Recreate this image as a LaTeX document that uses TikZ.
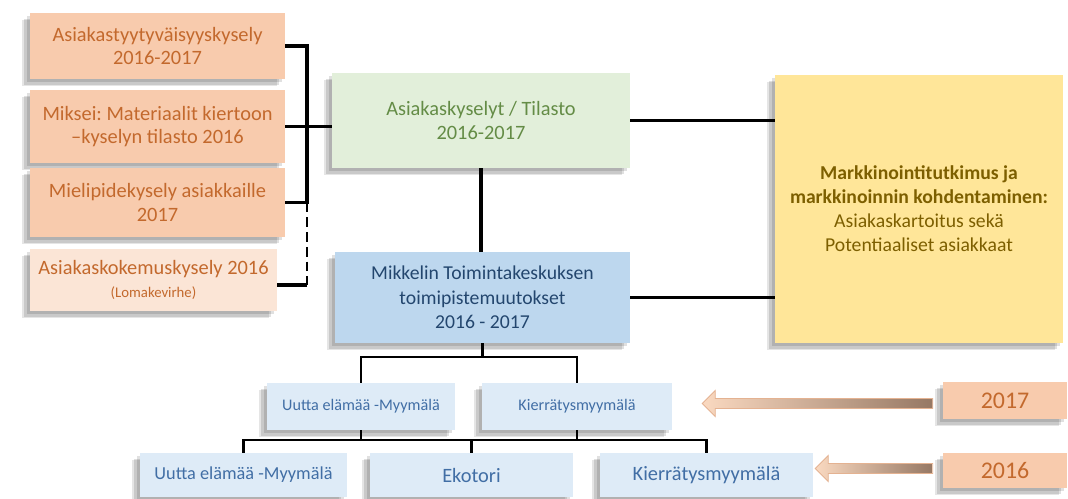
\documentclass[tikz,border=0pt]{standalone}
\usepackage{fontspec}
\setmainfont{Carlito}
\usepackage{tikz}
\usetikzlibrary{calc, shadows}
\definecolor{peachfill}{RGB}{248,203,173}
\definecolor{peachlight}{RGB}{251,229,214}
\definecolor{peachtext}{RGB}{195,105,45}
\definecolor{greenfill}{RGB}{226,239,218}
\definecolor{greentext}{RGB}{100,140,70}
\definecolor{bluefill}{RGB}{189,215,238}
\definecolor{bluetext}{RGB}{35,70,110}
\definecolor{skyfill}{RGB}{222,235,247}
\definecolor{skytext}{RGB}{65,110,165}
\definecolor{goldfill}{RGB}{255,230,153}
\definecolor{goldtext}{RGB}{125,95,0}
\definecolor{arrlight}{RGB}{250,217,192}
\definecolor{arrmid}{RGB}{218,162,125}
\definecolor{arrdark}{RGB}{150,120,100}

\newcommand{\yeararrow}[2]{%
  \shade[yeararr] (#2) -- ++(13,-13) -- ++(0,8) -- ($(#1.west |- #2)+(-10,-5)$) -- ++(0,10) -- ($(#2)+(13,5)$) -- ++(0,8) -- cycle;}

\frenchspacing
\begin{document}
\begin{tikzpicture}[
  x=0.025cm, y=-0.025cm,
  boxshadow/.style={
    drop shadow={shadow xshift=-2pt, shadow yshift=-2pt, fill=black, opacity=0.12},
    drop shadow={shadow xshift=-4pt, shadow yshift=-4pt, fill=black, opacity=0.12},
    drop shadow={shadow xshift=-6pt, shadow yshift=-5pt, fill=black, opacity=0.1}},
  base/.style={draw=none, align=center, inner sep=2pt, boxshadow},
  obox/.style={base, fill=peachfill, text=peachtext, minimum width=6.375cm, font=\fontsize{14.5}{16.5}\selectfont},
  gbox/.style={base, fill=greenfill, text=greentext, font=\fontsize{14.5}{17}\selectfont},
  bbox/.style={base, fill=bluefill, text=bluetext, font=\fontsize{14}{17.5}\selectfont},
  ybox/.style={base, fill=goldfill, text=goldtext, font=\fontsize{14}{17}\selectfont},
  sbox/.style={base, fill=skyfill, text=skytext},
  yrbox/.style={base, fill=peachfill, text=peachtext, minimum width=3.1cm, font=\fontsize{17}{20}\selectfont},
  link/.style={line width=2.5pt, black},
  tree/.style={line width=1.6pt, black},
  yeararr/.style={left color=arrlight, middle color=arrmid, right color=arrdark, draw=arrmid!70!arrlight, line width=0.6pt}
]
  \useasboundingbox (0,0) rectangle (1068,499);

  \node[obox, minimum height=1.65cm] (ask1) at (157.5,46) {Asiakastyytyväisyyskysely\\2016-2017};
  \node[obox, minimum height=1.825cm] (ask2) at (157.5,126.5) {Miksei: Materiaalit kiertoon\\–kyselyn tilasto 2016};
  \node[obox, minimum height=1.725cm] (ask3) at (157.5,202.5) {Mielipidekysely asiakkaille\\2017};
  \node[obox, fill=peachlight, minimum width=6.175cm, minimum height=1.55cm] (ask4) at (153.5,280) {Asiakaskokemuskysely 2016\\{\fontsize{10.5}{13}\selectfont(Lomakevirhe)}};

  \node[gbox, minimum width=7.45cm, minimum height=2.375cm] (stat) at (481,120.5) {Asiakaskyselyt / Tilasto\\2016-2017};
  \node[bbox, minimum width=7.375cm, minimum height=2.275cm] (mtk) at (482.5,297.5) {Mikkelin Toimintakeskuksen\\toimipistemuutokset\\2016 - 2017};
  \node[ybox, minimum width=7.2cm, minimum height=6.7cm] (mark) at (919,209) {\textbf{Markkinointitutkimus ja}\\\textbf{markkinoinnin kohdentaminen:}\\Asiakaskartoitus sekä\\Potentiaaliset asiakkaat};

  \node[sbox, minimum width=4.7cm, minimum height=1.175cm, font=\fontsize{11.5}{14}\selectfont] (ue17) at (361,406.5) {Uutta elämää -Myymälä};
  \node[sbox, minimum width=4.75cm, minimum height=1.175cm, font=\fontsize{11.5}{14}\selectfont] (km17) at (577,406.5) {Kierrätysmyymälä};
  \node[sbox, minimum width=5.175cm, minimum height=1.1cm, font=\fontsize{13}{15}\selectfont] (ue16) at (243.5,475) {Uutta elämää -Myymälä};
  \node[sbox, minimum width=5.075cm, minimum height=1.1cm, font=\fontsize{14.5}{16}\selectfont] (eko16) at (471.5,475) {Ekotori};
  \node[sbox, minimum width=5.325cm, minimum height=1.1cm, font=\fontsize{14.5}{16}\selectfont] (km16) at (706.5,475) {Kierrätysmyymälä};

  \node[yrbox, minimum height=0.925cm] (yr17) at (1005,400.5) {2017};
  \node[yrbox, minimum height=0.875cm] (yr16) at (1005,470.5) {2016};

  \coordinate (brk) at (307,0);
  \coordinate (tick4) at ($(ask4.east)+(0,5)$);
  \draw[link] (ask1.east) -- (ask1.east -| brk) -- (ask3.east -| brk) -- (ask3.east);
  \draw[link] (ask2.east) -- (ask2.east -| stat.west);
  \draw[line width=1.8pt, dash pattern=on 7pt off 3.5pt] (ask3.east -| brk) -- (tick4 -| brk);
  \draw[link] (tick4 -| brk) -- (tick4);
  \draw[link] (stat.south) -- (stat.south |- mtk.north);
  \draw[link] (stat.east) -- (stat.east -| mark.west);
  \draw[link] (mtk.east) -- (mtk.east -| mark.west);

  \coordinate (fork1) at (0,357);
  \coordinate (fork2) at (0,440);
  \draw[tree] (mtk.south) -- (mtk.south |- fork1);
  \draw[tree] (ue17.north) -- (ue17.north |- fork1) -- (km17.north |- fork1) -- (km17.north);
  \draw[tree] (ue16.north) -- (ue16.north |- fork2) -- (km16.north |- fork2) -- (km16.north);
  \draw[tree] (eko16.north) -- (eko16.north |- fork2);
  \draw[tree] (ue17.south) -- (ue17.south |- fork2);
  \draw[tree] (km17.south) -- (km17.south |- fork2);

  \coordinate (tip17) at ($(km17.east |- yr17.west)+(30,3)$);
  \coordinate (tip16) at ($(km16.east |- yr16.west)+(2,-2)$);
  \yeararrow{yr17}{tip17}
  \yeararrow{yr16}{tip16}

\end{tikzpicture}
\end{document}
